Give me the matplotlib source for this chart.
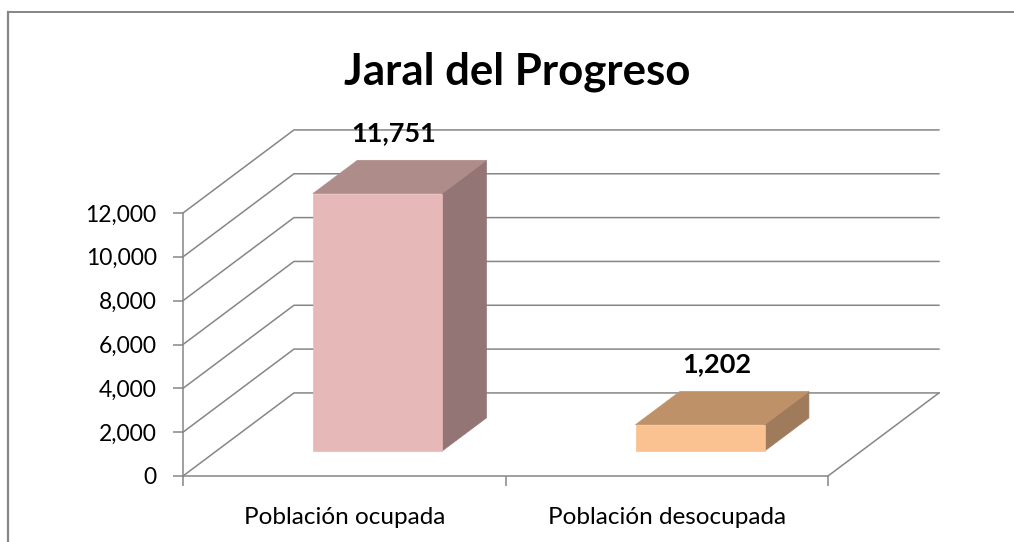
import matplotlib
matplotlib.use("Agg")
import matplotlib.pyplot as plt
from matplotlib.patches import Polygon
from matplotlib.lines import Line2D

# Datos
TITLE = "Jaral del Progreso"
categories = ["Población ocupada", "Población desocupada"]
values = [11751, 1202]
y_ticks = [0, 2000, 4000, 6000, 8000, 10000, 12000]

# Estilo
FRONT_COLORS = ["#E6B9B8", "#FAC191"]
TOP_COLORS = ["#AE8C8A", "#BF9169"]
SIDE_COLORS = ["#937575", "#A07B5B"]
GRID = "#868686"
FONT = ["Lato", "DejaVu Sans"]

# desplazamiento 3D de la profundidad total (unidades de datos)
DEPTH_X = 0.344
DEPTH_Y = 3790
BAR_W = 0.40
Z_FRONT, Z_BACK = 0.3, 0.7


def proj(x, y, z):
    return (x + z * DEPTH_X, y + z * DEPTH_Y)


def main() -> None:
    plt.rcParams["font.family"] = FONT
    W, H = 1014, 542
    fig = plt.figure(figsize=(W / 100, H / 100), dpi=100)

    ax = fig.add_axes([183 / W, 66 / H, 645 / W, 263 / H])
    ax.set_xlim(0, len(categories))
    ax.set_ylim(0, 12000)
    for s in ("top", "right"):
        ax.spines[s].set_visible(False)
    for s in ("left", "bottom"):
        ax.spines[s].set_color(GRID)
        ax.spines[s].set_linewidth(1.1)
    ax.patch.set_alpha(0)

    # ejes
    ax.set_yticks(y_ticks)
    ax.set_yticklabels([f"{v:,}" for v in y_ticks])
    ax.tick_params(axis="y", length=7, width=1.1, color=GRID,
                   labelsize=16.5, pad=12)
    ax.set_xticks(range(len(categories) + 1))
    ax.set_xticklabels([])
    ax.tick_params(axis="x", which="major", length=7, width=1.1, color=GRID)
    ax.set_xticks([i + 0.5 for i in range(len(categories))], minor=True)
    ax.set_xticklabels(categories, minor=True)
    ax.tick_params(axis="x", which="minor", length=0, labelsize=17.5, pad=22)

    # paredes: lineas de rejilla
    n = len(categories)
    for yv in y_ticks:
        p0 = proj(0, yv, 0)
        p1 = proj(0, yv, 1)
        p2 = proj(n, yv, 1)
        ax.plot([p0[0], p1[0], p2[0]], [p0[1], p1[1], p2[1]],
                color=GRID, lw=1.1, clip_on=False, zorder=1)
    q0, q1 = proj(n, 0, 0), proj(n, 0, 1)
    ax.plot([q0[0], q1[0]], [q0[1], q1[1]], color=GRID, lw=1.1,
            clip_on=False, zorder=1)

    # barras 3D
    for i, v in enumerate(values):
        x0 = i + 0.5 - BAR_W / 2
        x1 = i + 0.5 + BAR_W / 2
        front = [proj(x0, 0, Z_FRONT), proj(x1, 0, Z_FRONT),
                 proj(x1, v, Z_FRONT), proj(x0, v, Z_FRONT)]
        top = [proj(x0, v, Z_FRONT), proj(x1, v, Z_FRONT),
               proj(x1, v, Z_BACK), proj(x0, v, Z_BACK)]
        side = [proj(x1, 0, Z_FRONT), proj(x1, 0, Z_BACK),
                proj(x1, v, Z_BACK), proj(x1, v, Z_FRONT)]
        for pts, c in ((side, SIDE_COLORS[i]), (top, TOP_COLORS[i]),
                       (front, FRONT_COLORS[i])):
            ax.add_patch(Polygon(pts, closed=True, facecolor=c,
                                 edgecolor=c, lw=0.5, clip_on=False, zorder=3))

        lx, ly = proj(i + 0.5, v, 0.45)[0], proj(i + 0.5, v, Z_BACK)[1]
        ax.annotate(f"{v:,}", xy=(lx, ly), xytext=(0, 14),
                    textcoords="offset points", ha="center", va="baseline",
                    fontsize=19.5, fontweight="bold", zorder=5,
                    annotation_clip=False)

    fig.text(517 / W, 1 - 85 / H, TITLE, ha="center", va="baseline",
             fontsize=31.5, fontweight="bold")

    # marco del grafico
    fig.add_artist(Line2D([7.5 / W, 1], [1 - 12 / H, 1 - 12 / H],
                          transform=fig.transFigure, color="#868686", lw=1.4))
    fig.add_artist(Line2D([7.5 / W, 7.5 / W], [0, 1 - 12 / H],
                          transform=fig.transFigure, color="#868686", lw=1.6))

    fig.savefig("out.png", dpi=100)
    plt.close(fig)


if __name__ == "__main__":
    main()
